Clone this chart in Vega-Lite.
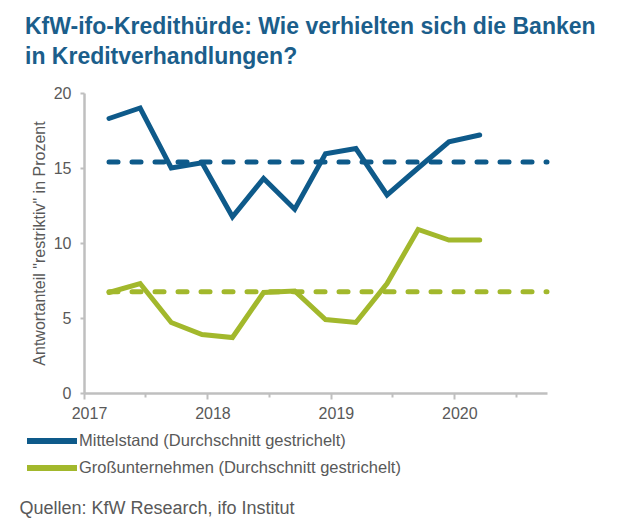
{
  "$schema": "https://vega.github.io/schema/vega-lite/v6.json",
  "width": 463,
  "height": 300,
  "autosize": {"type": "none"},
  "padding": {"left": 84, "top": 93, "right": 73, "bottom": 137},
  "background": "white",
  "title": {
    "text": ["KfW-ifo-Kredithürde: Wie verhielten sich die Banken", "in Kreditverhandlungen?"],
    "anchor": "start",
    "frame": "group",
    "dx": -59,
    "dy": -6,
    "fontSize": 23,
    "fontWeight": "bold",
    "color": "#1B5E8B",
    "font": "Liberation Sans",
    "lineHeight": 30,
    "offset": 10
  },
  "datasets": {
    "series": [
      {"date": "2017-03-16", "series": "Mittelstand", "value": 18.3},
      {"date": "2017-06-16", "series": "Mittelstand", "value": 19.0},
      {"date": "2017-09-16", "series": "Mittelstand", "value": 15.0},
      {"date": "2017-12-16", "series": "Mittelstand", "value": 15.35},
      {"date": "2018-03-16", "series": "Mittelstand", "value": 11.75},
      {"date": "2018-06-16", "series": "Mittelstand", "value": 14.3},
      {"date": "2018-09-16", "series": "Mittelstand", "value": 12.25},
      {"date": "2018-12-16", "series": "Mittelstand", "value": 15.95},
      {"date": "2019-03-16", "series": "Mittelstand", "value": 16.3},
      {"date": "2019-06-16", "series": "Mittelstand", "value": 13.2},
      {"date": "2019-09-16", "series": "Mittelstand", "value": 15.0},
      {"date": "2019-12-16", "series": "Mittelstand", "value": 16.75},
      {"date": "2020-03-16", "series": "Mittelstand", "value": 17.2},
      {"date": "2017-03-16", "series": "Großunternehmen", "value": 6.7},
      {"date": "2017-06-16", "series": "Großunternehmen", "value": 7.3},
      {"date": "2017-09-16", "series": "Großunternehmen", "value": 4.7},
      {"date": "2017-12-16", "series": "Großunternehmen", "value": 3.9},
      {"date": "2018-03-16", "series": "Großunternehmen", "value": 3.7},
      {"date": "2018-06-16", "series": "Großunternehmen", "value": 6.7},
      {"date": "2018-09-16", "series": "Großunternehmen", "value": 6.8},
      {"date": "2018-12-16", "series": "Großunternehmen", "value": 4.9},
      {"date": "2019-03-16", "series": "Großunternehmen", "value": 4.7},
      {"date": "2019-06-16", "series": "Großunternehmen", "value": 7.3},
      {"date": "2019-09-16", "series": "Großunternehmen", "value": 10.9},
      {"date": "2019-12-16", "series": "Großunternehmen", "value": 10.2},
      {"date": "2020-03-16", "series": "Großunternehmen", "value": 10.2}
    ],
    "means": [
      {"series": "Mittelstand", "start": "2017-03-16", "end": "2020-10-01", "mean": 15.4},
      {"series": "Großunternehmen", "start": "2017-03-16", "end": "2020-10-01", "mean": 6.75}
    ]
  },
  "layer": [
    {
      "data": {"name": "means"},
      "mark": {"type": "rule", "strokeWidth": 5, "strokeDash": [9, 14], "strokeCap": "round"},
      "encoding": {
        "x": {"field": "start", "type": "temporal", "scale": {"type": "utc"}},
        "x2": {"field": "end"},
        "y": {"field": "mean", "type": "quantitative"},
        "color": {"field": "series", "type": "nominal"}
      }
    },
    {
      "data": {"name": "series"},
      "mark": {"type": "line", "strokeWidth": 5, "strokeJoin": "miter", "strokeCap": "round"},
      "encoding": {
        "x": {
          "field": "date",
          "type": "temporal",
          "scale": {
            "type": "utc",
            "domain": [
              {"year": 2017, "month": 1, "date": 1, "utc": true},
              {"year": 2020, "month": 10, "date": 1, "utc": true}
            ]
          },
          "axis": {
            "values": [
              {"year": 2017, "month": 1, "date": 1, "utc": true},
              {"year": 2017, "month": 4, "date": 1, "utc": true},
              {"year": 2017, "month": 7, "date": 1, "utc": true},
              {"year": 2017, "month": 10, "date": 1, "utc": true},
              {"year": 2018, "month": 1, "date": 1, "utc": true},
              {"year": 2018, "month": 4, "date": 1, "utc": true},
              {"year": 2018, "month": 7, "date": 1, "utc": true},
              {"year": 2018, "month": 10, "date": 1, "utc": true},
              {"year": 2019, "month": 1, "date": 1, "utc": true},
              {"year": 2019, "month": 4, "date": 1, "utc": true},
              {"year": 2019, "month": 7, "date": 1, "utc": true},
              {"year": 2019, "month": 10, "date": 1, "utc": true},
              {"year": 2020, "month": 1, "date": 1, "utc": true},
              {"year": 2020, "month": 4, "date": 1, "utc": true},
              {"year": 2020, "month": 7, "date": 1, "utc": true},
              {"year": 2020, "month": 10, "date": 1, "utc": true}
            ],
            "labelExpr": "utcmonth(datum.value) === 0 ? utcFormat(datum.value, '%Y') : ''",
            "tickSize": {"condition": {"test": "utcmonth(datum.value) === 0", "value": 6}, "value": 4},
            "labelPadding": 6,
            "labelOffset": 5,
            "labelFlush": false,
            "labelOverlap": false,
            "title": "Quellen: KfW Research, ifo Institut",
            "titleFontSize": 18,
            "titleFontWeight": "normal",
            "titleColor": "#595959",
            "titleAnchor": "start",
            "titleAlign": "left",
            "titleBaseline": "alphabetic",
            "titleX": -65,
            "titleY": 120
          }
        },
        "y": {
          "field": "value",
          "type": "quantitative",
          "scale": {"domain": [0, 20]},
          "axis": {
            "values": [0, 5, 10, 15, 20],
            "tickSize": 4,
            "labelPadding": 9,
            "title": "Antwortanteil \"restriktiv\" in Prozent",
            "titleFontSize": 16,
            "titleFontWeight": "normal",
            "titleColor": "#595959",
            "titleAngle": 270,
            "titleAlign": "center",
            "titleBaseline": "middle",
            "titleX": -45,
            "titleY": 150
          }
        },
        "color": {
          "field": "series",
          "type": "nominal",
          "scale": {"domain": ["Mittelstand", "Großunternehmen"], "range": ["#0E5A8A", "#A2B82C"]},
          "legend": {
            "orient": "none",
            "legendX": -45,
            "legendY": 335,
            "title": null,
            "symbolType": "M-2.5,0H2.5",
            "symbolSize": 400,
            "symbolStrokeWidth": 6,
            "symbolFillColor": "transparent",
            "labelFontSize": 16.5,
            "labelColor": "#595959",
            "labelOffset": 14,
            "labelLimit": 0,
            "rowPadding": 2,
            "padding": 0,
            "labelExpr": "datum.label + ' (Durchschnitt gestrichelt)'"
          }
        }
      }
    }
  ],
  "config": {
    "font": "Liberation Sans",
    "view": {"stroke": null},
    "axis": {
      "grid": false,
      "labelFontSize": 16,
      "labelColor": "#595959",
      "labelFont": "Liberation Sans",
      "titleFont": "Liberation Sans",
      "domainColor": "#BFBFBF",
      "domainWidth": 2.5,
      "tickColor": "#BFBFBF",
      "tickWidth": 2
    },
    "legend": {"labelFont": "Liberation Sans"}
  }
}
